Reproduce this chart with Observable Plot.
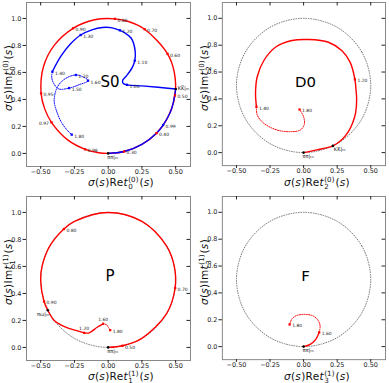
<!DOCTYPE html>
<html><head><meta charset="utf-8">
<script src="https://cdn.jsdelivr.net/npm/d3@7"></script>
<script src="https://cdn.jsdelivr.net/npm/@observablehq/plot@0.6"></script>
<style>
html,body{margin:0;padding:0;background:#fff}
body{width:389px;height:383px;position:relative;overflow:hidden;font-family:"DejaVu Sans",sans-serif}
.panel{position:absolute}
.xl,.yl{position:absolute;font-size:10.5px;white-space:nowrap;color:#111;line-height:1;letter-spacing:0.3px}
.xl{transform:translate(-50%,-50%)}
.yl{transform:translate(-50%,-50%) rotate(-90deg)}
.ss{display:inline-block;font-size:0.68em;line-height:1;vertical-align:-0.4em;text-align:left;margin:0 1px 0 0.5px;letter-spacing:0}
</style></head><body>
<script>
// ---------- shared ----------
const xTicks = [-0.5, -0.25, 0, 0.25, 0.5];
const yTicks = [0, 0.2, 0.4, 0.6, 0.8, 1.0];
// unitarity circle (reference)
const circleRe = [0.5, 0.433, 0.25, 0, -0.25, -0.433, -0.5, -0.433, -0.25, 0, 0.25, 0.433];
const circleIm = [0.5, 0.75, 0.933, 1, 0.933, 0.75, 0.5, 0.25, 0.067, 0, 0.067, 0.25];

// ---------- S0 ----------
const s0RedRe = [0, 0.118, 0.25, 0.358, 0.433, 0.495, 0.49, 0.44, 0.27, 0.15, 0.05, -0.1, -0.26, -0.4, -0.48, -0.497, -0.47, -0.42, -0.3, -0.17, -0.08, 0, 0.118, 0.25, 0.358, 0.407, 0.47, 0.5];
const s0RedIm = [0, 0.014, 0.067, 0.15, 0.25, 0.43, 0.6, 0.737, 0.92, 0.977, 0.997, 0.99, 0.927, 0.8, 0.64, 0.445, 0.33, 0.23, 0.1, 0.03, 0.0065, 0, 0.014, 0.067, 0.15, 0.21, 0.33, 0.477];
const s0BlueArcRe = [0, 0.118, 0.25, 0.358, 0.407, 0.47, 0.5];
const s0BlueArcIm = [0, 0.014, 0.067, 0.15, 0.21, 0.33, 0.477];
const s0BlueRe = [0.5, 0.37, 0.25, 0.14, 0.112, 0.107, 0.137, 0.179, 0.197, 0.2, 0.17, 0.12, 0.087, 0.02, -0.043, -0.12, -0.204, -0.28, -0.35, -0.413];
const s0BlueIm = [0.477, 0.49, 0.5, 0.508, 0.518, 0.54, 0.576, 0.637, 0.687, 0.76, 0.855, 0.895, 0.912, 0.932, 0.933, 0.915, 0.877, 0.81, 0.72, 0.607];
const s0BlueDotRe = [-0.413, -0.418, -0.401, -0.364, -0.289, -0.215, -0.149, -0.19, -0.24, -0.302, -0.351, -0.383, -0.4, -0.383, -0.346, -0.3, -0.27];
const s0BlueDotIm = [0.605, 0.563, 0.514, 0.477, 0.484, 0.509, 0.539, 0.569, 0.581, 0.563, 0.526, 0.477, 0.39, 0.316, 0.23, 0.168, 0.139];
const s0RedLab = ["0.30", "0.40", "0.50", "0.60", "0.70", "0.80", "0.90", "0.95", "0.97", "0.98"];
const s0RedLabRe = [0.118, 0.358, 0.495, 0.44, 0.27, 0.05, -0.26, -0.497, -0.42, -0.17];
const s0RedLabIm = [0.014, 0.15, 0.43, 0.737, 0.92, 0.997, 0.927, 0.445, 0.23, 0.03];
const s0BlueLab = ["0.99", "1.00", "1.10", "1.20", "1.30", "1.40", "1.50", "1.60", "1.70", "1.80"];
const s0BlueLabRe = [0.407, 0.14, 0.197, 0.087, -0.204, -0.413, -0.289, -0.149, -0.24, -0.27];
const s0BlueLabIm = [0.21, 0.508, 0.687, 0.912, 0.877, 0.605, 0.484, 0.539, 0.581, 0.139];
const s0KKRe = [0.5], s0KKIm = [0.477];

// ---------- D0 ----------
const d0RedRe = [0, 0.099, 0.218, 0.28, 0.33, 0.365, 0.388, 0.395, 0.39, 0.382, 0.346, 0.284, 0.185, 0.037, -0.086, -0.21, -0.296, -0.346, -0.358, -0.351];
const d0RedIm = [0, 0.02, 0.05, 0.092, 0.15, 0.22, 0.3, 0.4, 0.47, 0.546, 0.674, 0.76, 0.822, 0.842, 0.835, 0.785, 0.686, 0.563, 0.44, 0.341];
const d0RedDotRe = [-0.351, -0.345, -0.296, -0.197, -0.099, -0.025, 0.005, 0, -0.03];
const d0RedDotIm = [0.341, 0.279, 0.218, 0.168, 0.156, 0.168, 0.21, 0.267, 0.321];
const d0Lab = ["1.20", "1.40", "1.80"];
const d0LabRe = [0.382, -0.351, -0.03];
const d0LabIm = [0.546, 0.341, 0.321];
const d0KKRe = [0.218], d0KKIm = [0.05];

// ---------- P ----------
const pRedRe = [0, 0.106, 0.25, 0.433, 0.496, 0.49, 0.433, 0.25, 0, -0.25, -0.328, -0.433, -0.49, -0.5, -0.475, -0.447, -0.4, -0.314, -0.24, -0.178, -0.141, -0.079, -0.037];
const pRedIm = [0, 0.012, 0.067, 0.25, 0.44, 0.6, 0.75, 0.933, 1, 0.933, 0.877, 0.75, 0.6, 0.5, 0.34, 0.275, 0.2, 0.15, 0.126, 0.108, 0.108, 0.151, 0.175];
const pRedDotRe = [-0.037, -0.012, 0.004, 0.015];
const pRedDotIm = [0.175, 0.168, 0.145, 0.128];
const pLab = ["0.50", "0.70", "0.80", "0.90", "1.20", "1.60", "1.80"];
const pLabRe = [0.106, 0.496, -0.328, -0.475, -0.178, -0.037, 0.015];
const pLabIm = [0.012, 0.44, 0.877, 0.34, 0.108, 0.175, 0.128];
const pOmRe = [-0.447], pOmIm = [0.275];

// ---------- F ----------
const fRedRe = [0, 0.049, 0.091, 0.116];
const fRedIm = [0, 0.017, 0.054, 0.106];
const fRedDotRe = [0.116, 0.123, 0.111, 0.074, 0.012, -0.049, -0.086, -0.104];
const fRedDotIm = [0.106, 0.153, 0.19, 0.227, 0.24, 0.232, 0.207, 0.165];
const fLab = ["1.60", "1.80"];
const fLabRe = [0.116, -0.104];
const fLabIm = [0.106, 0.165];

const thRe = [0], thIm = [0];

// ---------- helpers ----------
const pts = (re, im, lab) => re.map((x, i) => ({x, y: im[i], label: lab ? lab[i] : ""}));
const RED = "#ff0000", BLUE = "#0000ff";
const solid = (re, im, color) => Plot.line(pts(re, im), {x: "x", y: "y", stroke: color, strokeWidth: 1.4, curve: "catmull-rom"});
const dotted = (re, im, color) => Plot.line(pts(re, im), {x: "x", y: "y", stroke: color, strokeWidth: 1, strokeDasharray: "1,1.3", curve: "catmull-rom"});
const refCircle = () => Plot.line(pts(circleRe, circleIm), {x: "x", y: "y", stroke: "#555", strokeWidth: 0.8, strokeDasharray: "0.8,1.7", curve: "catmull-rom-closed"});
const marks = (re, im, lab, color, above = [], left = []) => {
  const d = pts(re, im, lab);
  return [
    Plot.dot(d, {x: "x", y: "y", r: 1.3, symbol: "square", fill: color, stroke: "none"}),
    Plot.text(d.filter(p => !above.includes(p.label) && !left.includes(p.label)), {x: "x", y: "y", text: "label", textAnchor: "start", dx: 2.5, dy: 1.5, fontSize: 4.5, fill: "#222"}),
    Plot.text(d.filter(p => above.includes(p.label)), {x: "x", y: "y", text: "label", textAnchor: "middle", dy: -4, fontSize: 4.5, fill: "#222"}),
    Plot.text(d.filter(p => left.includes(p.label)), {x: "x", y: "y", text: "label", textAnchor: "end", dx: -2.5, dy: 1, fontSize: 4.5, fill: "#222"})
  ];
};
const thDot = (re, im) => Plot.dot(pts(re, im), {x: "x", y: "y", r: 1.3, fill: "#000"});
const thText = (re, im, txt, opts) => Plot.text(pts(re, im, [txt]), {x: "x", y: "y", text: "label", fontSize: 5, fill: "#111", ...opts});
const PIPI = "ππ|\u209C\u2095";
const KKB = "KK\u0305|\u209C\u2095";
const PIOM = "πω|\u209C\u2095";

function panel(left, top, title, sub, sup, content) {
  const chart = Plot.plot({
    width: 194, height: 190,
    marginLeft: 26, marginTop: 2, marginRight: 4, marginBottom: 24,
    style: {fontFamily: "DejaVu Sans", fontSize: "6.5px", background: "transparent", color: "#222"},
    x: {domain: [-0.605, 0.61]},
    y: {domain: [-0.097, 1.118]},
    marks: [
      Plot.frame({stroke: "#888"}),
      Plot.axisX({ticks: xTicks, tickFormat: d3.format(".2f"), tickSize: 2.8, tickPadding: 0, label: null}),
      Plot.axisY({ticks: yTicks, tickFormat: d3.format(".1f"), tickSize: 3.5, tickPadding: 1.5, label: null}),
      Plot.tickX(xTicks, {x: d => d, insetBottom: 160.5, stroke: "#222"}),
      Plot.tickY(yTicks, {y: d => d, insetLeft: 160.5, stroke: "#222"}),
      ...content,
      Plot.text([title], {frameAnchor: "middle", dx: 1.5, dy: -2, fontSize: 15, fill: "#000"})
    ]
  });
  const div = document.createElement("div");
  div.className = "panel";
  div.style.left = left + "px";
  div.style.top = top + "px";
  div.appendChild(chart);
  document.body.appendChild(div);
  const lab = (p) => `<i>σ</i>(<i>s</i>)${p}<i>t</i><span class="ss">(${sup})<br>${sub}</span>(<i>s</i>)`;
  const xl = document.createElement("div");
  xl.className = "xl";
  xl.style.left = (left + 121) + "px";
  xl.style.top = (top + 182.5) + "px";
  xl.innerHTML = lab("Re");
  document.body.appendChild(xl);
  const yl = document.createElement("div");
  yl.className = "yl";
  yl.style.left = (left + 9) + "px";
  yl.style.top = (top + 78) + "px";
  yl.innerHTML = lab("Im");
  document.body.appendChild(yl);
}

panel(0, 0, "S0", "0", "0", [
  solid(s0RedRe, s0RedIm, RED),
  solid(s0BlueArcRe, s0BlueArcIm, BLUE),
  solid(s0BlueRe, s0BlueIm, BLUE),
  dotted(s0BlueDotRe, s0BlueDotIm, BLUE),
  ...marks(s0RedLabRe, s0RedLabIm, s0RedLab, RED, [], ["0.97"]),
  ...marks(s0BlueLabRe, s0BlueLabIm, s0BlueLab, BLUE),
  thDot(thRe, thIm), thText(thRe, thIm, PIPI, {textAnchor: "start", dx: -1, dy: 4}),
  thDot(s0KKRe, s0KKIm), thText(s0KKRe, s0KKIm, KKB, {textAnchor: "start", dx: 2, dy: -1})
]);

panel(196, 0, "D0", "2", "0", [
  refCircle(),
  solid(d0RedRe, d0RedIm, RED),
  dotted(d0RedDotRe, d0RedDotIm, RED),
  ...marks(d0LabRe, d0LabIm, d0Lab, RED),
  thDot(thRe, thIm), thText(thRe, thIm, PIPI, {textAnchor: "start", dx: -1, dy: 4}),
  thDot(d0KKRe, d0KKIm), thText(d0KKRe, d0KKIm, KKB, {textAnchor: "start", dx: 1, dy: 4})
]);

panel(0, 194, "P", "1", "1", [
  refCircle(),
  solid(pRedRe, pRedIm, RED),
  dotted(pRedDotRe, pRedDotIm, RED),
  ...marks(pLabRe, pLabIm, pLab, RED, ["1.20", "1.60"]),
  thDot(thRe, thIm), thText(thRe, thIm, PIPI, {textAnchor: "start", dx: -1, dy: 4}),
  thDot(pOmRe, pOmIm), thText(pOmRe, pOmIm, PIOM, {textAnchor: "end", dx: 1.5, dy: 4})
]);

panel(196, 194, "F", "3", "1", [
  refCircle(),
  solid(fRedRe, fRedIm, RED),
  dotted(fRedDotRe, fRedDotIm, RED),
  ...marks(fLabRe, fLabIm, fLab, RED),
  thDot(thRe, thIm), thText(thRe, thIm, PIPI, {textAnchor: "start", dx: -1, dy: 4})
]);
</script>
</body></html>
